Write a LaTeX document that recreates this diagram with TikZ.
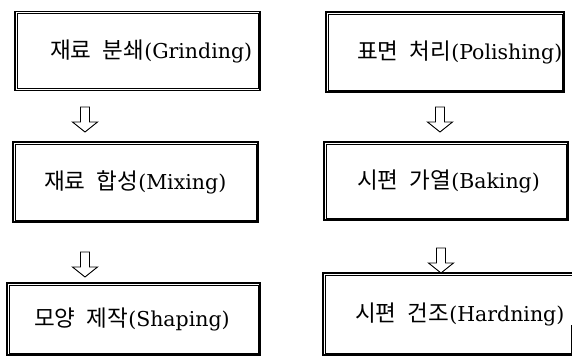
\documentclass[tikz,border=0pt]{standalone}
\usepackage{fontspec}
\setmainfont{DejaVu Serif}
\newfontfamily\kr{Noto Sans CJK KR}[Scale=1.1]
\tikzset{
  x=1pt, y=-1pt,
  stepbox/.style={draw, line width=1.3pt, rectangle, inner xsep=0pt, inner ysep=0pt,
    align=left, font=\fontsize{20.5}{24}\selectfont},
  innerline/.style={draw, line width=0.6pt},
  pics/downarrow/.style={code={
    \draw[line width=0.9pt, line join=miter] (-4.5,0) -- (4.5,0) -- (4.5,15) -- (12.5,15) -- (0,25)
      -- (-12.5,15) -- (-4.5,15) -- cycle;}}
}
\newcommand{\kw}[2]{{\kr #1\hspace{0.5em}#2}}
\begin{document}
\begin{tikzpicture}
\useasboundingbox (0,0) rectangle (572,363);
\clip (0,0) rectangle (572,363);
\node[stepbox, minimum width=245pt, minimum height=79pt, text width=245pt] (b1) at (137.5,51)
  {\hspace*{35pt}\kw{재료}{분쇄}(Grinding)};
\node[stepbox, minimum width=238pt, minimum height=80pt, text width=238pt] (b2) at (445,52)
  {\hspace*{31pt}\kw{표면}{처리}(Polishing)};
\node[stepbox, minimum width=245pt, minimum height=80pt, text width=245pt] (b3) at (135.5,182)
  {\hspace*{31pt}\kw{재료}{합성}(Mixing)};
\node[stepbox, minimum width=244pt, minimum height=78pt, text width=244pt] (b4) at (446,181)
  {\hspace*{33pt}\kw{시편}{가열}(Baking)};
\node[stepbox, minimum width=253pt, minimum height=72pt, text width=253pt] (b5) at (133.5,319)
  {\hspace*{27pt}\kw{모양}{제작}(Shaping)};
\node[stepbox, minimum width=262pt, minimum height=82pt, text width=262pt] (b6) at (454,314)
  {\hspace*{32pt}\kw{시편}{건조}(Hardning)};
\foreach \n in {b1,b2,b3,b4,b5,b6}
  \draw[innerline] ([shift={(2.8,2.8)}]\n.north west) rectangle ([shift={(-2.8,-2.8)}]\n.south east);
\draw[line width=0.5pt] (571,325) -- (571,355);
\pic (a1) at (85,107) {downarrow};
\pic (a2) at (440,107) {downarrow};
\pic (a3) at (85,252) {downarrow};
\pic (a4) at (441,248) {downarrow};
\end{tikzpicture}
\end{document}
